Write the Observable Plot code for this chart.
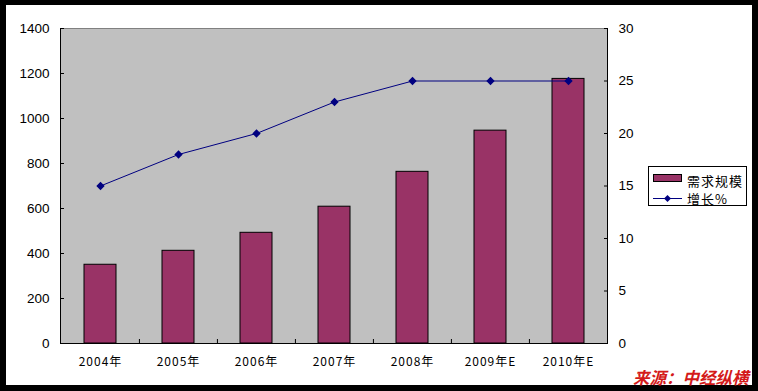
<!DOCTYPE html>
<html>
<head>
<meta charset="utf-8">
<script src="https://cdn.jsdelivr.net/npm/d3@7"></script>
<script src="https://cdn.jsdelivr.net/npm/@observablehq/plot@0.6"></script>
<style>
  body { margin: 0; background: #fff; }
  #wrap { position: relative; width: 758px; height: 391px; overflow: hidden; background: #fff; }
  #wrap svg { position: absolute; left: 0; top: 0; }
  #border { position: absolute; left: 0; top: 0; width: 758px; height: 391px; box-sizing: border-box;
    border-style: solid; border-color: #000; border-width: 5px 6px 6px 6px; pointer-events: none; z-index: 1; }
  #legend { position: absolute; left: 648px; top: 166px; width: 99px; height: 40px; box-sizing: border-box;
    border: 1px solid #000; background: #fff; font-family: "Noto Sans CJK SC", sans-serif; font-size: 13px; z-index: 2; }
  #legend .sw { position: absolute; left: 4px; top: 7px; width: 29px; height: 8px; box-sizing: border-box;
    background: #993366; border: 1px solid #000; }
  #legend svg.ln { position: absolute; left: 4px; top: 27px; }
  #legend .t { position: absolute; left: 38px; line-height: 14px; letter-spacing: 1px; white-space: nowrap; }
  #caption { position: absolute; left: 633px; top: 365px; font-family: "Noto Sans CJK SC", sans-serif;
    font-size: 16.5px; font-weight: bold; font-style: italic; color: #d41a1a; white-space: nowrap; z-index: 3; }
  [aria-label="x-axis tick label"] text { letter-spacing: 1px; }
</style>
</head>
<body>
<div id="wrap"></div>
<script>
const categories = ["2004年", "2005年", "2006年", "2007年", "2008年", "2009年E", "2010年E"];
const demand = [350, 412, 492, 608, 763, 946, 1176];
const growth = [15, 18, 20, 23, 25, 25, 25];
const leftTicks = [0, 200, 400, 600, 800, 1000, 1200, 1400];
const rightTicks = [0, 5, 10, 15, 20, 25, 30];
const seriesNames = ["需求规模", "增长%"];
const sourceText = "来源：中经纵横";

const W = 758, H = 391, mL = 60, mR = 151, mT = 28, mB = 48;
const yMax = 1400, y2Max = 30, k = yMax / y2Max;
const barColor = "#993366", lineColor = "#000080";
const rows = categories.map((c, i) => ({year: c, demand: demand[i], growth: growth[i]}));
const step = (W - mL - mR) / categories.length;
const plotH = H - mT - mB;

const chart = Plot.plot({
  width: W, height: H,
  marginLeft: mL, marginRight: mR, marginTop: mT, marginBottom: mB,
  style: {fontFamily: '"Liberation Sans", Arial, sans-serif', fontSize: "13.5px", color: "#000", background: "transparent"},
  x: {type: "band", domain: categories, paddingInner: 0.59, paddingOuter: 0.295},
  y: {domain: [0, yMax]},
  marks: [
    Plot.frame({fill: "#C0C0C0", stroke: "#808080"}),
    Plot.barY(rows, {x: "year", y: "demand", fill: barColor, stroke: "#000", strokeWidth: 1}),
    Plot.line(rows, {x: "year", y: d => d.growth * k, stroke: lineColor, strokeWidth: 1}),
    Plot.dot(rows, {x: "year", y: d => d.growth * k, symbol: "diamond2", r: 2.8, fill: lineColor, stroke: lineColor}),
    Plot.frame({anchor: "left", stroke: "#000"}),
    Plot.frame({anchor: "right", stroke: "#000"}),
    Plot.frame({anchor: "bottom", stroke: "#000"}),
    Plot.axisY(leftTicks, {anchor: "left", tickSize: -4, tickPadding: 15, label: null,
      tickFormat: d => String(d)}),
    Plot.axisY(rightTicks.map(v => v * k), {anchor: "right", tickSize: -4, tickPadding: 15, label: null,
      tickFormat: (d, i) => String(rightTicks[i])}),
    Plot.axisX({tickSize: 0, tickPadding: 14, label: null, fontFamily: '"Noto Sans CJK SC", sans-serif', fontSize: 12}),
    Plot.tickX(categories.slice(1), {x: d => d, dx: -step / 2, insetTop: plotH - 4, stroke: "#000"})
  ]
});

const wrap = document.getElementById("wrap");
wrap.appendChild(chart);

const legend = document.createElement("div");
legend.id = "legend";
legend.innerHTML = `
  <div class="sw"></div>
  <div class="t" style="top:7px">${seriesNames[0]}</div>
  <svg class="ln" width="29" height="9" viewBox="0 0 29 9">
    <line x1="0" y1="4.5" x2="29" y2="4.5" stroke="${lineColor}" stroke-width="1"/>
    <path d="M14.5 1 L18 4.5 L14.5 8 L11 4.5 Z" fill="${lineColor}"/>
  </svg>
  <div class="t" style="top:25px">${seriesNames[1]}</div>`;
wrap.appendChild(legend);

const cap = document.createElement("div");
cap.id = "caption";
cap.textContent = sourceText;
wrap.appendChild(cap);

const border = document.createElement("div");
border.id = "border";
wrap.appendChild(border);
</script>
</body>
</html>
